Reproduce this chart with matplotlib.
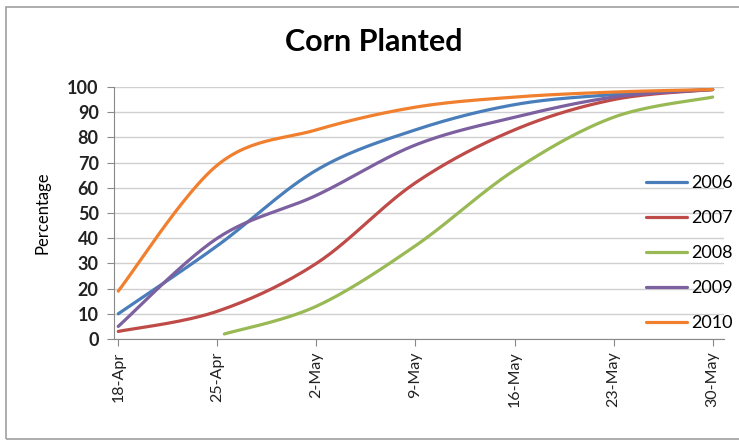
import numpy as np
import matplotlib
matplotlib.use("Agg")
import matplotlib.pyplot as plt
from matplotlib.patches import Rectangle

# ---- data ----
date_labels = ["18-Apr", "25-Apr", "2-May", "9-May", "16-May", "23-May", "30-May"]
days = [0, 7, 14, 21, 28, 35, 42]
y2006 = [10, 37, 67, 83, 93, 97, 99]
y2007 = [3, 11, 30, 62, 83, 95, 99]
y2008_days = [7.5, 14, 21, 28, 35, 42]
y2008 = [2, 13, 37, 67, 88, 96]
y2009 = [5, 40, 57, 77, 88, 96, 99]
y2010 = [19, 69, 83, 92, 96, 98, 99]
years = ["2006", "2007", "2008", "2009", "2010"]
colors = ["#4a7ebb", "#be4b48", "#98b954", "#7d60a0", "#f07f2e"]

def smooth(x, y, n=30):
    # Catmull-Rom style Bezier smoothing (like spreadsheet smoothed lines)
    x = np.asarray(x, float); y = np.asarray(y, float)
    P = np.column_stack([x, y])
    out = []
    for i in range(len(P) - 1):
        p0 = P[i - 1] if i > 0 else P[i]
        p1 = P[i]; p2 = P[i + 1]
        p3 = P[i + 2] if i + 2 < len(P) else P[i + 1]
        c1 = p1 + (p2 - p0) / 6.0
        c2 = p2 - (p3 - p1) / 6.0
        t = np.linspace(0, 1, n)[:, None]
        seg = ((1 - t) ** 3) * p1 + 3 * ((1 - t) ** 2) * t * c1 + 3 * (1 - t) * t ** 2 * c2 + t ** 3 * p2
        out.append(seg if i == 0 else seg[1:])
    s = np.vstack(out)
    return s[:, 0], s[:, 1]

fig = plt.figure(figsize=(7.39, 4.41), dpi=100)
fig.patch.set_facecolor("white")
# chart border
fig.patches.append(Rectangle((6 / 739, 2 / 441), 740 / 739, 432 / 441, transform=fig.transFigure,
                             fill=False, edgecolor="#a0a0a0", linewidth=1.2))

ax = fig.add_axes([114 / 739, 1 - 339 / 441, (724 - 114) / 739, (339 - 87) / 441])

series = [(days, y2006), (days, y2007), (y2008_days, y2008), (days, y2009), (days, y2010)]
for (xs, ys), lab, col in zip(series, years, colors):
    sx, sy = smooth(xs, ys)
    ax.plot(sx, sy, color=col, linewidth=2.3, label=lab, solid_capstyle="round")

ax.set_xlim(-0.3, 42.8)
ax.set_ylim(0, 100)
ax.set_yticks(range(0, 101, 10))
ax.set_xticks(days)
ax.set_xticklabels(date_labels, rotation=90, fontsize=11.5, family="Lato", color="#222222")
for lab in ax.get_yticklabels():
    lab.set_fontsize(13)
    lab.set_family("Lato")
    lab.set_fontweight("bold")
    lab.set_color("#222222")
ax.grid(axis="y", color="#d0d0d0", linewidth=1)
ax.set_axisbelow(True)
for sp in ["top", "right"]:
    ax.spines[sp].set_visible(False)
ax.spines["left"].set_color("#888888")
ax.spines["bottom"].set_color("#888888")
ax.tick_params(axis="y", length=5, color="#888888", pad=6)
ax.tick_params(axis="x", length=5, color="#888888", pad=4)
ax.set_ylabel("Percentage", fontsize=12, family="Lato", labelpad=12)

fig.text(374 / 739, 1 - 42 / 441, "Corn Planted", ha="center", va="center",
         fontsize=22, fontweight="bold", family="Lato")

leg = ax.legend(loc="upper left", bbox_to_anchor=(0.845, 0.715), frameon=False,
                handlelength=2.3, handletextpad=0.2, labelspacing=1.05,
                prop={"family": "Lato", "size": 13})

fig.savefig("out.png", dpi=100, facecolor="white")
